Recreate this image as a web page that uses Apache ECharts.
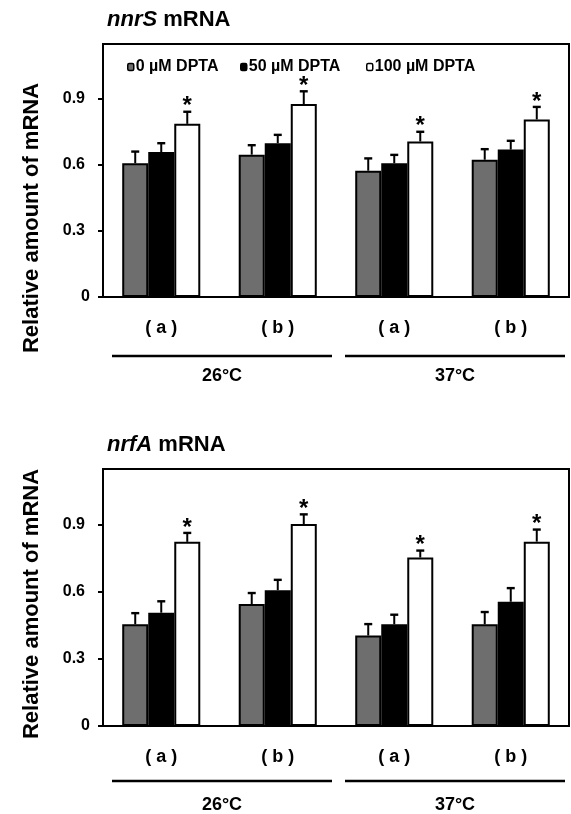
<!DOCTYPE html>
<html><head><meta charset="utf-8">
<script src="https://cdn.jsdelivr.net/npm/echarts@6/dist/echarts.min.js"></script>
<style>html,body{margin:0;padding:0;background:#fff}#c{width:571px;height:814px}</style>
</head><body><div id="c"></div>
<script>
// ---- data ----
const categories = ['( a )', '( b )', '( a )', '( b )'];
const groupLabels = ['26°C', '37°C'];
const seriesNames = ['0 µM DPTA', '50 µM DPTA', '100 µM DPTA'];
const yTicks = [0, 0.3, 0.6, 0.9];
const panelTitles = ['nnrS', 'nrfA'];

const nnrS_0 = [0.608, 0.647, 0.574, 0.624];
const nnrS_0_err = [0.053, 0.043, 0.056, 0.048];
const nnrS_50 = [0.659, 0.699, 0.608, 0.670];
const nnrS_50_err = [0.040, 0.038, 0.038, 0.040];
const nnrS_100 = [0.787, 0.877, 0.707, 0.807];
const nnrS_100_err = [0.055, 0.058, 0.044, 0.057];

const nrfA_0 = [0.455, 0.546, 0.405, 0.455];
const nrfA_0_err = [0.050, 0.049, 0.051, 0.055];
const nrfA_50 = [0.507, 0.608, 0.455, 0.556];
const nrfA_50_err = [0.051, 0.046, 0.043, 0.061];
const nrfA_100 = [0.824, 0.904, 0.754, 0.825];
const nrfA_100_err = [0.040, 0.043, 0.031, 0.054];

const sig_0 = [0, 0, 0, 0];
const sig_50 = [0, 0, 0, 0];
const sig_100 = [1, 1, 1, 1];

// ---- styling ----
const FONT = '"Liberation Sans", Arial, sans-serif';
const COLORS = ['#6e6e6e', '#000000', '#ffffff'];
const GAP = 0.33;
const panels = [
  { values: [nnrS_0, nnrS_50, nnrS_100], errs: [nnrS_0_err, nnrS_50_err, nnrS_100_err], top: 44, height: 253 },
  { values: [nrfA_0, nrfA_50, nrfA_100], errs: [nrfA_0_err, nrfA_50_err, nrfA_100_err], top: 469, height: 257 }
];
const sigs = [sig_0, sig_50, sig_100];

function renderErr(params, api) {
  const ci = api.value(0), si = api.value(1), v = api.value(2), e = api.value(3), s = api.value(4);
  const catW = api.size([1, 0])[0];
  const bw = catW * (1 - GAP) / 3;
  const base = api.coord([ci, v]);
  const x = base[0] + (si - 1) * bw;
  const yt = api.coord([ci, v + e])[1];
  const children = [
    { type: 'line', shape: { x1: x, y1: base[1], x2: x, y2: yt }, style: { stroke: '#000', lineWidth: 2 } },
    { type: 'line', shape: { x1: x - 4, y1: yt, x2: x + 4, y2: yt }, style: { stroke: '#000', lineWidth: 2.4 } }
  ];
  if (s) children.push({ type: 'text', x: x, y: yt - 5, style: { text: '*', font: 'bold 24px ' + FONT, fill: '#000', align: 'center', verticalAlign: 'middle' } });
  return { type: 'group', children };
}

const grid = [], xAxis = [], yAxis = [], series = [], title = [];
panels.forEach((p, pi) => {
  grid.push({ left: 103, right: 2, top: p.top, height: p.height, show: true, borderColor: '#000', borderWidth: 2, backgroundColor: 'transparent' });
  xAxis.push({
    type: 'category', gridIndex: pi, data: categories,
    axisLine: { lineStyle: { color: '#000', width: 2 } }, axisTick: { show: false },
    axisLabel: { color: '#000', fontFamily: FONT, fontWeight: 'bold', fontSize: 18, margin: 22 }
  });
  yAxis.push({
    type: 'value', gridIndex: pi, min: 0, max: 1.15, interval: 0.3,
    axisLine: { show: true, lineStyle: { color: '#000', width: 2 } },
    axisTick: { show: true, length: 5, lineStyle: { color: '#000', width: 2 }, customValues: yTicks },
    axisLabel: { color: '#000', fontFamily: FONT, fontWeight: 'bold', fontSize: 16, margin: 13, customValues: yTicks,
      formatter: v => (v === 0 ? '0' : '{p|' + v.toFixed(1) + '}'),
      rich: { p: { fontFamily: FONT, fontWeight: 'bold', fontSize: 16, color: '#000', padding: [0, 5, 0, 0] } } },
    splitLine: { show: false }
  });
  p.values.forEach((vals, si) => {
    series.push({
      type: 'bar', name: seriesNames[si], xAxisIndex: pi, yAxisIndex: pi, data: vals,
      barGap: '0%', barCategoryGap: (GAP * 100) + '%',
      itemStyle: { color: COLORS[si], borderColor: '#000', borderWidth: 2 },
      emphasis: { disabled: true }, z: 2
    });
  });
  const errData = [];
  p.values.forEach((vals, si) => vals.forEach((v, ci) => errData.push([ci, si, v, p.errs[si][ci], sigs[si][ci]])));
  series.push({ type: 'custom', xAxisIndex: pi, yAxisIndex: pi, data: errData, renderItem: renderErr, encode: { x: 0, y: 2 }, z: 5, silent: true });
  title.push({
    text: '{i|' + panelTitles[pi] + '} mRNA', left: 107, top: p.top - 35, padding: 0,
    textStyle: { fontFamily: FONT, fontWeight: 'bold', fontSize: 22, color: '#000',
      rich: { i: { fontFamily: FONT, fontWeight: 'bold', fontStyle: 'italic', fontSize: 22, color: '#000' } } }
  });
});

const legendLeft = [127, 240, 366];
const legend = seriesNames.map((n, i) => ({
  data: [n], left: legendLeft[i], top: 59, padding: 0, itemWidth: 6, itemHeight: 7,
  selectedMode: false,
  itemStyle: { borderColor: '#000', borderWidth: 1.5 },
  textStyle: { fontFamily: FONT, fontWeight: 'bold', fontSize: 16, color: '#000', padding: [0, 0, 0, -3] }
}));

const chart = echarts.init(document.getElementById('c'), null, { renderer: 'canvas' });
chart.setOption({ animation: false, backgroundColor: '#fff', grid, xAxis, yAxis, series, title, legend });

// group annotations and axis titles, placed through the axes
const yTitleCenters = [218, 604];
const lineOffsets = [59, 55];
const labelOffsets = [79, 79];
const graphic = [];
panels.forEach((p, pi) => {
  const c0 = chart.convertToPixel({ xAxisIndex: pi }, 0);
  const c1 = chart.convertToPixel({ xAxisIndex: pi }, 1);
  const catW = c1 - c0;
  const y0 = chart.convertToPixel({ yAxisIndex: pi }, 0);
  groupLabels.forEach((lab, gi) => {
    const xl = chart.convertToPixel({ xAxisIndex: pi }, gi * 2) - catW / 2 + 9;
    const xr = chart.convertToPixel({ xAxisIndex: pi }, gi * 2 + 1) + catW / 2 - 4;
    graphic.push({ type: 'line', shape: { x1: xl, y1: y0 + lineOffsets[pi], x2: xr, y2: y0 + lineOffsets[pi] }, style: { stroke: '#000', lineWidth: 2.5 } });
    graphic.push({ type: 'text', x: (xl + xr) / 2, y: y0 + labelOffsets[pi], style: { text: lab, font: 'bold 18px ' + FONT, fill: '#000', align: 'center', verticalAlign: 'middle' } });
  });
  graphic.push({ type: 'text', x: 32, y: yTitleCenters[pi], rotation: Math.PI / 2,
    style: { text: 'Relative amount of mRNA', font: 'bold 22px ' + FONT, fill: '#000', align: 'center', verticalAlign: 'middle' } });
});
chart.setOption({ graphic });
</script>
</body></html>
